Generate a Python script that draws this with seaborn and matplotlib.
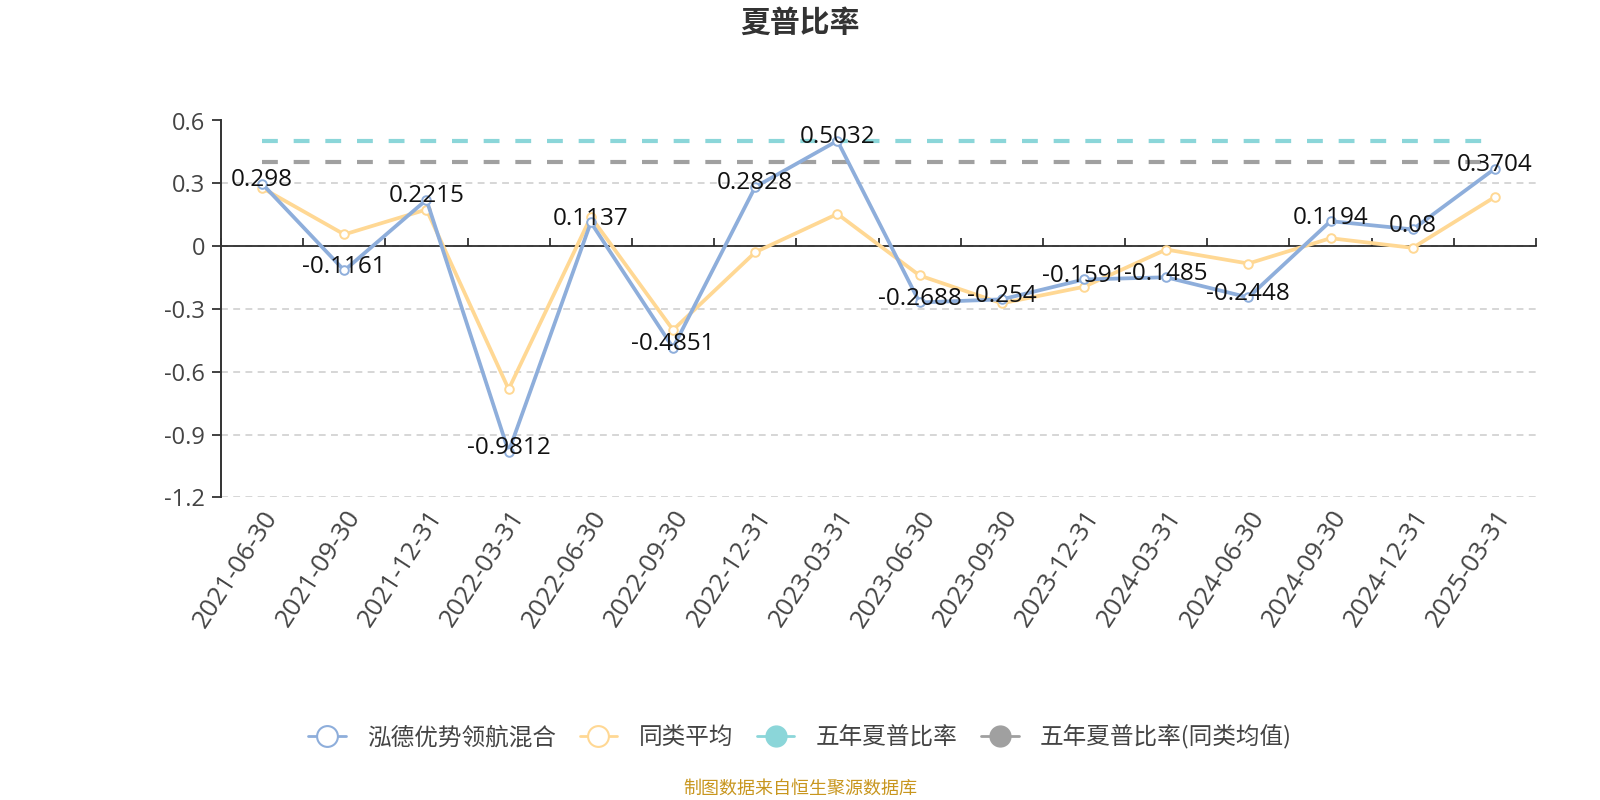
import matplotlib
matplotlib.use("Agg")
import matplotlib.pyplot as plt
import seaborn as sns
import pandas as pd
from matplotlib.lines import Line2D

dates = ["2021-06-30", "2021-09-30", "2021-12-31", "2022-03-31", "2022-06-30",
         "2022-09-30", "2022-12-31", "2023-03-31", "2023-06-30", "2023-09-30",
         "2023-12-31", "2024-03-31", "2024-06-30", "2024-09-30", "2024-12-31",
         "2025-03-31"]
fund = [0.298, -0.1161, 0.2215, -0.9812, 0.1137, -0.4851, 0.2828, 0.5032,
        -0.2688, -0.254, -0.1591, -0.1485, -0.2448, 0.1194, 0.08, 0.3704]
peer_avg = [0.278, 0.056, 0.175, -0.683, 0.14, -0.40, -0.029, 0.154,
            -0.14, -0.273, -0.194, -0.016, -0.083, 0.038, -0.008, 0.235]
five_year = 0.50
five_year_peer = 0.40
series_names = ["泓德优势领航混合", "同类平均", "五年夏普比率", "五年夏普比率(同类均值)"]
yticks = [0.6, 0.3, 0, -0.3, -0.6, -0.9, -1.2]
ytick_labels = ["0.6", "0.3", "0", "-0.3", "-0.6", "-0.9", "-1.2"]

C_BLUE = "#8eaedb"
C_YEL = "#ffd894"
C_CYAN = "#8bd6d9"
C_GREY = "#a0a0a0"

sns.set_theme(style="white")
plt.rcParams["font.family"] = ["Open Sans", "Noto Sans CJK SC", "DejaVu Sans"]
plt.rcParams["axes.unicode_minus"] = False
CJK = ["Noto Sans CJK SC", "DejaVu Sans"]

n = len(dates)
df = pd.DataFrame({"pos": list(range(n)), "date": dates, "fund": fund, "peer": peer_avg,
                   "five": [five_year] * n, "five_peer": [five_year_peer] * n})

W, H = 1600, 800
L, R, T, B = 221, 1536, 120.5, 497.5
fig = plt.figure(figsize=(16, 8), dpi=100)
ax = fig.add_axes([L / W, 1 - B / H, (R - L) / W, (B - T) / H])

for yv in yticks:
    ax.axhline(yv, color="#cccccc", lw=1.1, ls=(0, (4.5, 3.5)), zorder=0)

sns.lineplot(data=df, x="pos", y="five", ax=ax, color=C_CYAN, lw=3,
             linestyle=(0, (3.8, 3.8)), zorder=2, legend=False)
sns.lineplot(data=df, x="pos", y="five_peer", ax=ax, color=C_GREY, lw=3,
             linestyle=(0, (3.8, 3.8)), zorder=2, legend=False)
sns.lineplot(data=df, x="pos", y="peer", ax=ax, color=C_YEL, lw=2.7, zorder=3,
             marker="o", markersize=6.2, markerfacecolor="white", markeredgecolor=C_YEL,
             markeredgewidth=1.4, legend=False)
sns.lineplot(data=df, x="pos", y="fund", ax=ax, color=C_BLUE, lw=2.7, zorder=4,
             marker="o", markersize=6.2, markerfacecolor="white", markeredgecolor=C_BLUE,
             markeredgewidth=1.4, legend=False)

for i, v in enumerate(fund):
    ax.annotate(f"{v:g}", (i, v), xytext=(0, 2.5), textcoords="offset points",
                ha="center", va="center", fontsize=17.5, color="#111111", zorder=6)

ax.set_xlim(-0.5, n - 0.5)
ax.set_ylim(-1.2, 0.6)
ax.set_yticks(yticks)
ax.set_yticklabels(ytick_labels)
ax.tick_params(axis="y", direction="out", length=6.5, width=1.3, color="#333333",
               labelsize=17, labelcolor="#444444", left=True, pad=5)
ax.set_xticks(list(range(n)))
ax.set_xticklabels(dates, rotation=57, ha="right", rotation_mode="anchor")
ax.tick_params(axis="x", length=0, labelsize=18.5, labelcolor="#444444", pad=6)
ax.set_xlabel("")
ax.set_ylabel("")
for s in ["top", "right", "bottom"]:
    ax.spines[s].set_visible(False)
ax.spines["left"].set_color("#333333")
ax.spines["left"].set_linewidth(1.4)

sec = ax.secondary_xaxis(1.2 / 1.8)
sec.set_xticks([i + 0.5 for i in range(-1, n)])
sec.set_xticklabels([])
sec.tick_params(axis="x", direction="out", length=6, width=1.3, color="#333333")
sec.spines["bottom"].set_color("#333333")
sec.spines["bottom"].set_linewidth(1.6)

CX = 800 / W
fig.text(CX, 1 - 23 / H, "夏普比率", ha="center", va="center",
         fontsize=21.5, fontweight="bold", color="#333333", family=CJK)

handles = [
    Line2D([], [], color=C_BLUE, lw=2, marker="o", markersize=15, markerfacecolor="white",
           markeredgecolor=C_BLUE, markeredgewidth=1.5),
    Line2D([], [], color=C_YEL, lw=2, marker="o", markersize=15, markerfacecolor="white",
           markeredgecolor=C_YEL, markeredgewidth=1.5),
    Line2D([], [], color=C_CYAN, lw=2, marker="o", markersize=15, markerfacecolor=C_CYAN,
           markeredgecolor=C_CYAN),
    Line2D([], [], color=C_GREY, lw=2, marker="o", markersize=15, markerfacecolor=C_GREY,
           markeredgecolor=C_GREY),
]
fig.legend(handles, series_names, loc="center", bbox_to_anchor=(CX, 1 - 737 / H),
           ncol=4, frameon=False, prop={"family": CJK, "size": 17}, handlelength=1.6,
           handletextpad=0.9, columnspacing=1.0, labelcolor="#444444")

fig.text(CX, 1 - 789 / H, "制图数据来自恒生聚源数据库", ha="center", va="center",
         fontsize=13, color="#c8961e", family=CJK)

fig.savefig("out.png", dpi=100)
